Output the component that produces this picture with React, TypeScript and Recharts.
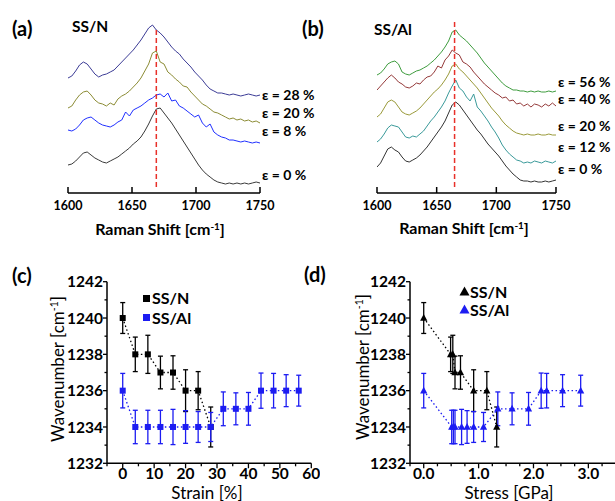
import React from 'react';
import { LineChart, Line, XAxis, YAxis, ReferenceLine, ErrorBar } from 'recharts';

const FONT = 'Lato, "Open Sans", "DejaVu Sans", sans-serif';
const BLUE = '#1c1cf2';
const RED = '#e8302a';

// ---------- Panels (a) and (b): Raman spectra ----------
const ramanShift = [1600,1603,1606,1609,1612,1615,1618,1621,1624,1627,1630,1633,1636,1639,1642,1645,1648,1651,1654,1657,1660,1663,1666,1669,1672,1675,1678,1681,1684,1687,1690,1693,1696,1699,1702,1705,1708,1711,1714,1717,1720,1723,1726,1729,1732,1735,1738,1741,1744,1747,1750];
const ramanTicks = [1600, 1650, 1700, 1750];

// SS/N intensities (a.u.)
const ssN_e28 = [115,117,122,128,131,129,124,119,116,118,119,121,123,127,131,135,139,143,148,153,159,165,168,163,160,156,151,146,142,139,134,130,126,121,117,113,108,104,102,100,100,99,98,99,98,97,98,99,98,97,98];
const ssN_e20 = [85,87,93,98,101,102,98,93,90,89,87,90,88,94,97,99,102,106,110,115,122,129,140,142,131,129,121,118,114,111,107,106,101,97,93,89,87,84,81,80,78,76,74,75,73,74,72,73,71,72,70];
const ssN_e8 = [63,62,64,68,73,75,76,73,70,68,67,66,68,71,73,81,77,83,85,87,90,93,95,98,99,96,100,92,93,87,85,82,79,76,78,70,66,69,61,58,56,55,53,53,52,51,52,51,50,51,50];
const ssN_e0 = [28,29,32,36,40,41,38,35,33,31,30,32,34,36,39,42,45,49,52,56,62,69,77,84,85,80,75,70,64,58,52,46,40,34,28,23,19,16,13,11,10,9,10,9,10,9,10,9,10,11,10];

// SS/Al intensities (a.u.)
const ssAl_e56 = [118,120,124,129,131,132,129,121,119,118,120,122,123,125,127,130,133,137,141,146,152,161,163,158,155,152,148,144,140,135,130,126,122,118,114,110,107,105,103,103,102,102,101,102,101,102,101,101,102,101,102];
const ssAl_e40 = [103,107,111,115,118,115,111,109,106,105,107,110,109,113,116,117,121,127,125,133,137,143,140,138,131,129,126,121,117,113,109,106,103,100,98,95,96,92,93,89,90,87,89,86,89,88,86,89,87,90,87];
const ssAl_e20 = [76,79,85,91,93,91,86,81,79,78,80,82,85,89,93,97,101,104,108,113,119,127,129,124,121,117,113,109,105,100,95,90,85,81,77,72,68,65,62,60,59,58,59,58,58,59,58,58,59,58,58];
const ssAl_e12 = [51,54,59,65,68,67,66,61,56,55,57,56,59,62,67,72,76,81,86,92,100,107,113,105,102,96,92,99,86,82,77,72,66,61,55,48,43,39,36,33,32,30,31,30,32,31,30,32,31,30,32];
const ssAl_e0 = [26,30,37,44,46,43,41,36,32,31,33,35,38,42,46,51,56,61,66,72,80,88,91,88,83,78,73,68,63,59,54,49,45,41,37,32,27,23,19,16,13,12,12,11,12,11,11,12,11,12,13];

const peakN = 1669;
const peakAl = 1665;

const tableA = ramanShift.map((x, i) => ({ x, e28: ssN_e28[i], e20: ssN_e20[i], e8: ssN_e8[i], e0: ssN_e0[i] }));
const tableB = ramanShift.map((x, i) => ({ x, e56: ssAl_e56[i], e40: ssAl_e40[i], e20: ssAl_e20[i], e12: ssAl_e12[i], e0: ssAl_e0[i] }));

// ---------- Panels (c) and (d): wavenumber vs strain / stress ----------
const strainN = [0, 4, 8, 12, 16, 20, 24, 28];
const stressN = [0, 0.49, 0.53, 0.57, 0.67, 0.91, 1.15, 1.33];
const wnN = [1240, 1238, 1238, 1237, 1237, 1236, 1236, 1234];
const errN = [0.85, 0.95, 1.05, 0.9, 0.92, 1.15, 1.05, 1.1];

const strainAl = [0, 4, 8, 12, 16, 20, 24, 28, 32, 36, 40, 44, 48, 52, 56];
const stressAl = [0, 0.51, 0.54, 0.57, 0.69, 0.79, 0.91, 1.09, 1.35, 1.61, 1.91, 2.14, 2.24, 2.53, 2.86];
const wnAl = [1236, 1234, 1234, 1234, 1234, 1234, 1234, 1234, 1235, 1235, 1235, 1236, 1236, 1236, 1236];
const errAl = [0.95, 0.92, 0.92, 0.92, 0.97, 0.9, 0.85, 0.8, 0.93, 0.88, 0.9, 0.97, 0.95, 0.88, 0.85];

const wnTicks = [1232, 1233, 1234, 1235, 1236, 1237, 1238, 1239, 1240, 1241, 1242];
const wnMajor = [1232, 1234, 1236, 1238, 1240, 1242];
const strainTicks = [-5, 0, 5, 10, 15, 20, 25, 30, 35, 40, 45, 50, 55, 60];
const strainMajor = [0, 10, 20, 30, 40, 50, 60];
const stressTicks = [-0.25, 0, 0.25, 0.5, 0.75, 1, 1.25, 1.5, 1.75, 2, 2.25, 2.5, 2.75, 3, 3.25, 3.5];
const stressMajor = [0, 1, 2, 3];

const tblStrainN = strainN.map((x, i) => ({ x, y: wnN[i], err: errN[i] }));
const tblStrainAl = strainAl.map((x, i) => ({ x, y: wnAl[i], err: errAl[i] }));
const tblStressN = stressN.map((x, i) => ({ x, y: wnN[i], err: errN[i] }));
const tblStressAl = stressAl.map((x, i) => ({ x, y: wnAl[i], err: errAl[i] }));

const isIn = (arr: number[], v: number) => arr.some((m) => Math.abs(m - v) < 1e-6);

const SpecTick = (p: any) => {
  const { x, y, payload } = p;
  return (
    <g>
      <line x1={x} x2={x} y1={y} y2={y - 6} stroke="#000" strokeWidth={1.5} />
      <text x={x} y={y + 17} textAnchor="middle" fontFamily={FONT} fontWeight={700} fontSize={12.5} fill="#000">
        {payload.value}
      </text>
    </g>
  );
};

const makeXTick = (majors: number[], fmt: (v: number) => string) => (p: any) => {
  const { x, y, payload } = p;
  const v = payload.value;
  const major = isIn(majors, v);
  return (
    <g key={`t${v}`}>
      <line x1={x} x2={x} y1={y} y2={y + (major ? 5 : 3)} stroke="#000" strokeWidth={1.3} />
      {major && (
        <text x={x} y={y + 16} textAnchor="middle" fontFamily={FONT} fontWeight={700} fontSize={15.5} fill="#000">
          {fmt(v)}
        </text>
      )}
    </g>
  );
};

const YTick = (p: any) => {
  const { x, y, payload } = p;
  const v = payload.value;
  const major = isIn(wnMajor, v);
  return (
    <g>
      <line x1={x} x2={x - (major ? 4 : 2.5)} y1={y} y2={y} stroke="#000" strokeWidth={1.3} />
      {major && (
        <text x={x - 4} y={y} dy="0.36em" textAnchor="end" fontFamily={FONT} fontWeight={700} fontSize={15.5} fill="#000">
          {v}
        </text>
      )}
    </g>
  );
};

const squareDot = (color: string) => (p: any) => (
  <rect key={`s${p.index}`} x={p.cx - 3} y={p.cy - 3} width={6} height={6} fill={color} />
);
const triDot = (color: string) => (p: any) => (
  <polygon
    key={`t${p.index}`}
    points={`${p.cx},${p.cy - 4} ${p.cx - 3.6},${p.cy + 2.8} ${p.cx + 3.6},${p.cy + 2.8}`}
    fill={color}
  />
);

const T = (props: { x: number; y: number; size: number; bold?: boolean; anchor?: 'l' | 'c'; children: any; rotate?: boolean }) => {
  const { x, y, size, bold, anchor = 'l', children, rotate } = props;
  const tr = rotate ? 'translate(-50%,-50%) rotate(-90deg)' : anchor === 'c' ? 'translate(-50%,-50%)' : 'translate(0,-50%)';
  return (
    <div
      style={{
        position: 'absolute',
        left: x,
        top: y,
        transform: tr,
        whiteSpace: 'nowrap',
        fontFamily: FONT,
        fontSize: size,
        fontWeight: bold ? 700 : 400,
        lineHeight: 1,
        color: '#000',
      }}
    >
      {children}
    </div>
  );
};

const Sup = ({ children }: { children: any }) => (
  <span style={{ fontSize: '0.62em', position: 'relative', top: '-0.55em' }}>{children}</span>
);

const axisStyle = { stroke: '#000', strokeWidth: 1.5 };

export default function App() {
  return (
    <div style={{ position: 'absolute', left: 0, top: 0, width: 615, height: 501, background: '#fff', overflow: 'hidden' }}>
      {/* (a) */}
      <div style={{ position: 'absolute', left: 0, top: 0 }}>
        <LineChart width={310} height={240} data={tableA} margin={{ top: 0, right: 50, bottom: 0, left: 68 }}>
          <XAxis dataKey="x" type="number" domain={[1600, 1750]} ticks={ramanTicks} interval={0} height={47}
            tickSize={0} tickMargin={0} tick={(p: any) => <SpecTick {...p} />} axisLine={axisStyle} tickLine={false} allowDataOverflow />
          <YAxis type="number" domain={[0, 193]} hide allowDataOverflow />
          <Line dataKey="e0" stroke="#3a3a3a" strokeWidth={1} dot={false} isAnimationActive={false} />
          <Line dataKey="e8" stroke="#2030ff" strokeWidth={1} dot={false} isAnimationActive={false} />
          <Line dataKey="e20" stroke="#8c8c35" strokeWidth={1} dot={false} isAnimationActive={false} />
          <Line dataKey="e28" stroke="#3c3c96" strokeWidth={1} dot={false} isAnimationActive={false} />
          <ReferenceLine segment={[{ x: peakN, y: 6 }, { x: peakN, y: 163 }]} stroke={RED} strokeWidth={1.5} strokeDasharray="5 3" />
        </LineChart>
      </div>
      {/* (b) */}
      <div style={{ position: 'absolute', left: 300, top: 0 }}>
        <LineChart width={315} height={240} data={tableB} margin={{ top: 0, right: 59, bottom: 0, left: 77 }}>
          <XAxis dataKey="x" type="number" domain={[1600, 1750]} ticks={ramanTicks} interval={0} height={47}
            tickSize={0} tickMargin={0} tick={(p: any) => <SpecTick {...p} />} axisLine={axisStyle} tickLine={false} allowDataOverflow />
          <YAxis type="number" domain={[0, 193]} hide allowDataOverflow />
          <Line dataKey="e0" stroke="#333333" strokeWidth={1} dot={false} isAnimationActive={false} />
          <Line dataKey="e12" stroke="#3a9a9a" strokeWidth={1} dot={false} isAnimationActive={false} />
          <Line dataKey="e20" stroke="#9a9a3a" strokeWidth={1} dot={false} isAnimationActive={false} />
          <Line dataKey="e40" stroke="#953a3a" strokeWidth={1} dot={false} isAnimationActive={false} />
          <Line dataKey="e56" stroke="#3e9c3e" strokeWidth={1} dot={false} isAnimationActive={false} />
          <ReferenceLine segment={[{ x: peakAl, y: 6 }, { x: peakAl, y: 173 }]} stroke={RED} strokeWidth={1.5} strokeDasharray="5 3" />
        </LineChart>
      </div>
      {/* (c) */}
      <div style={{ position: 'absolute', left: 0, top: 250 }}>
        <LineChart width={320} height={251} margin={{ top: 31.7, right: 8.7, bottom: 0, left: 0 }}>
          <XAxis dataKey="x" type="number" domain={[-5, 60]} ticks={strainTicks} interval={0} height={37.7}
            tickSize={0} tickMargin={0} tick={makeXTick(strainMajor, (v) => String(v))} axisLine={axisStyle} tickLine={false} allowDataOverflow />
          <YAxis type="number" domain={[1232, 1242]} ticks={wnTicks} interval={0} width={107}
            tickSize={0} tickMargin={0} tick={(p: any) => <YTick {...p} />} axisLine={axisStyle} tickLine={false} allowDataOverflow />
          <Line data={tblStrainN} dataKey="y" stroke="#000" strokeWidth={1.3} strokeDasharray="1.5 2.5" dot={squareDot('#000')} isAnimationActive={false}>
            <ErrorBar dataKey="err" direction="y" width={2.5} stroke="#000" strokeWidth={1.3} />
          </Line>
          <Line data={tblStrainAl} dataKey="y" stroke={BLUE} strokeWidth={1.3} strokeDasharray="1.5 2.5" dot={squareDot(BLUE)} isAnimationActive={false}>
            <ErrorBar dataKey="err" direction="y" width={2.5} stroke={BLUE} strokeWidth={1.3} />
          </Line>
        </LineChart>
      </div>
      {/* (d) */}
      <div style={{ position: 'absolute', left: 300, top: 250 }}>
        <LineChart width={318} height={251} margin={{ top: 31.7, right: 2.2, bottom: 0, left: 0 }}>
          <XAxis dataKey="x" type="number" domain={[-0.25, 3.5]} ticks={stressTicks} interval={0} height={37.7}
            tickSize={0} tickMargin={0} tick={makeXTick(stressMajor, (v) => v.toFixed(1))} axisLine={axisStyle} tickLine={false} allowDataOverflow />
          <YAxis type="number" domain={[1232, 1242]} ticks={wnTicks} interval={0} width={110}
            tickSize={0} tickMargin={0} tick={(p: any) => <YTick {...p} />} axisLine={axisStyle} tickLine={false} allowDataOverflow />
          <Line data={tblStressN} dataKey="y" stroke="#000" strokeWidth={1.3} strokeDasharray="1.5 2.5" dot={triDot('#000')} isAnimationActive={false}>
            <ErrorBar dataKey="err" direction="y" width={2.5} stroke="#000" strokeWidth={1.3} />
          </Line>
          <Line data={tblStressAl} dataKey="y" stroke={BLUE} strokeWidth={1.3} strokeDasharray="1.5 2.5" dot={triDot(BLUE)} isAnimationActive={false}>
            <ErrorBar dataKey="err" direction="y" width={2.5} stroke={BLUE} strokeWidth={1.3} />
          </Line>
        </LineChart>
      </div>

      {/* texts */}
      <T x={12} y={28} size={20} bold>(a)</T>
      <T x={72} y={27} size={15.5} bold>SS/N</T>
      <T x={302} y={28} size={20} bold>(b)</T>
      <T x={374} y={30} size={15.5} bold>SS/Al</T>
      <T x={12} y={275} size={20} bold>(c)</T>
      <T x={304} y={274} size={20} bold>(d)</T>

      <T x={160} y={229} size={16} bold anchor="c">Raman Shift [cm<Sup>-1</Sup>]</T>
      <T x={464} y={228} size={16} bold anchor="c">Raman Shift [cm<Sup>-1</Sup>]</T>

      <T x={262} y={95} size={14} bold>ε = 28 %</T>
      <T x={262} y={113} size={14} bold>ε = 20 %</T>
      <T x={262} y={131} size={14} bold>ε = 8 %</T>
      <T x={262} y={175} size={14} bold>ε = 0 %</T>

      <T x={558} y={82} size={14} bold>ε = 56 %</T>
      <T x={558} y={99} size={14} bold>ε = 40 %</T>
      <T x={558} y={126} size={14} bold>ε = 20 %</T>
      <T x={558} y={147} size={14} bold>ε = 12 %</T>
      <T x={558} y={169} size={14} bold>ε = 0 %</T>

      <T x={57} y={369} size={17} rotate>Wavenumber [cm<Sup>-1</Sup>]</T>
      <T x={362} y={367} size={17} rotate>Wavenumber [cm<Sup>-1</Sup>]</T>
      <T x={207} y={492} size={17} anchor="c">Strain [%]</T>
      <T x={509} y={492} size={17} anchor="c">Stress [GPa]</T>

      {/* legends */}
      <div style={{ position: 'absolute', left: 143, top: 294.5, width: 7, height: 7, background: '#000' }} />
      <T x={152} y={298} size={16} bold>SS/N</T>
      <div style={{ position: 'absolute', left: 143, top: 313.5, width: 7, height: 7, background: BLUE }} />
      <T x={152} y={317.5} size={16} bold>SS/Al</T>

      <svg style={{ position: 'absolute', left: 459, top: 286 }} width={11} height={10}>
        <polygon points="5.5,0.5 0.5,9.5 10.5,9.5" fill="#000" />
      </svg>
      <T x={470} y={291.5} size={16} bold>SS/N</T>
      <svg style={{ position: 'absolute', left: 459, top: 304 }} width={11} height={10}>
        <polygon points="5.5,0.5 0.5,9.5 10.5,9.5" fill={BLUE} />
      </svg>
      <T x={470} y={310} size={16} bold>SS/Al</T>
    </div>
  );
}
